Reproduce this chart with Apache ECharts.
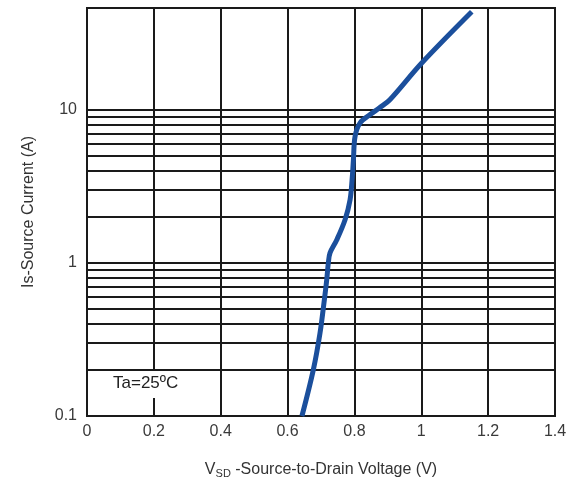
<!DOCTYPE html>
<html>
<head>
<meta charset="utf-8">
<script src="https://cdn.jsdelivr.net/npm/echarts@6/dist/echarts.min.js"></script>
<style>
  html, body { margin: 0; padding: 0; background: #fff; }
  #main { width: 575px; height: 488px; }
</style>
</head>
<body>
<div id="main"></div>
<script>
// Vsd (V) vs Is (A)
var vsd = [0.643, 0.677, 0.697, 0.710, 0.717, 0.722, 0.727, 0.747, 0.772, 0.787, 0.793, 0.797, 0.802, 0.817, 0.847, 0.876, 0.906, 1.0, 1.151];
var isrc = [0.1, 0.2, 0.347, 0.573, 0.77, 1.0, 1.16, 1.41, 1.91, 2.58, 3.49, 4.71, 6.69, 8.19, 9.27, 10.3, 11.6, 20, 43.5];

// log grid lines between the decades
var minorGrid = [0.2, 0.3, 0.4, 0.5, 0.6, 0.7, 0.8, 0.9, 2, 3, 4, 5, 6, 7, 8, 9];

var points = vsd.map(function (v, i) { return [v, isrc[i]]; });
var gridLine = { color: '#1a1a1a', width: 2 };
var labelFont = { fontFamily: 'Liberation Sans', fontSize: 16, color: '#3a3a3a' };

var myChart = echarts.init(document.getElementById('main'));
var option = {
  animation: false,
  grid: { left: 87, right: 20, top: 8, bottom: 72, show: true, borderColor: '#1a1a1a', borderWidth: 2 },
  xAxis: {
    type: 'value',
    min: 0, max: 1.4, interval: 0.2,
    axisLine: { lineStyle: gridLine },
    axisTick: { show: false },
    axisLabel: Object.assign({ margin: 8 }, labelFont),
    splitLine: { show: true, lineStyle: gridLine },
    name: '{v|V}{sub|SD}{v| -Source-to-Drain Voltage (V)}',
    nameLocation: 'middle',
    nameGap: 44,
    nameTextStyle: {
      rich: {
        v: { fontFamily: 'Liberation Sans', fontSize: 16, color: '#333' },
        sub: { fontFamily: 'Liberation Sans', fontSize: 11, color: '#333', padding: [8, 0, 0, 0] }
      }
    }
  },
  yAxis: {
    type: 'log',
    logBase: 10,
    min: 0.1, max: 46,
    axisLine: { lineStyle: gridLine },
    axisTick: { show: false },
    axisLabel: Object.assign({ margin: 10, showMaxLabel: false }, labelFont),
    splitLine: { show: true, lineStyle: gridLine },
    name: 'Is-Source Current (A)',
    nameLocation: 'middle',
    nameGap: 50,
    nameTextStyle: { fontFamily: 'Liberation Sans', fontSize: 16, color: '#333' }
  },
  graphic: [{
    type: 'text',
    left: 109, top: 371,
    z: 100,
    style: {
      text: 'Ta=25ºC',
      font: '17px "Liberation Sans"',
      fill: '#222',
      backgroundColor: '#fff',
      padding: [4, 4, 6, 4]
    }
  }],
  series: [
    {
      type: 'line',
      data: [],
      z: 1,
      silent: true,
      markLine: {
        silent: true,
        symbol: ['none', 'none'],
        label: { show: false },
        lineStyle: { color: '#1a1a1a', width: 2, type: 'solid' },
        data: minorGrid.map(function (v) { return { yAxis: v }; })
      }
    },
    {
      name: 'Is',
      type: 'line',
      data: points,
      z: 5,
      smooth: 0.35,
      showSymbol: false,
      lineStyle: { color: '#1b4f9c', width: 5 }
    }
  ]
};
myChart.setOption(option);
</script>
</body>
</html>
